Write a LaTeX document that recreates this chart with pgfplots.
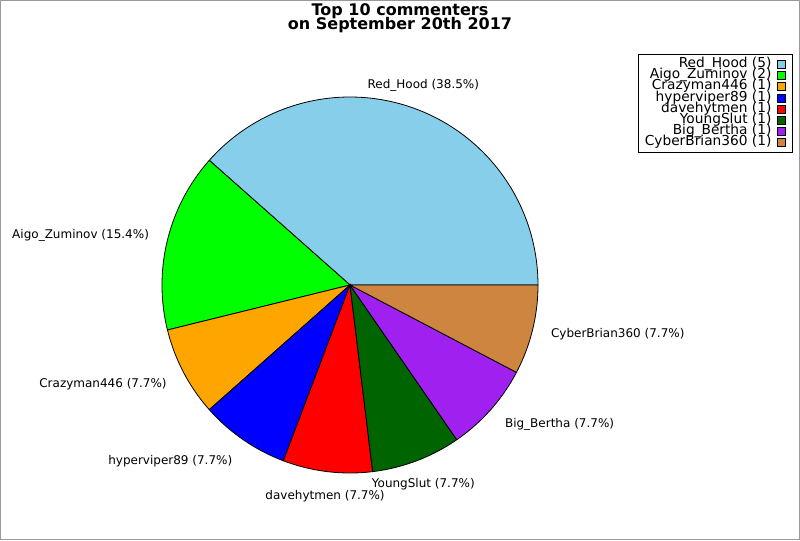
\documentclass[border=0pt]{standalone}
\usepackage{pgfplots}
\pgfplotsset{compat=1.18}
\usepackage{fontspec}
\setmainfont{DejaVu Sans}
\definecolor{cRed}{RGB}{135,206,235}
\definecolor{cAigo}{RGB}{0,255,0}
\definecolor{cCraz}{RGB}{255,165,0}
\definecolor{cHyp}{RGB}{0,0,255}
\definecolor{cDave}{RGB}{255,0,0}
\definecolor{cYoung}{RGB}{0,100,0}
\definecolor{cBig}{RGB}{160,32,240}
\definecolor{cCyber}{RGB}{205,133,63}
\newcommand\total{13}
\gdef\cum{0}
% #1 count, #2 colour, #3 name, #4 percentage text, #5 label anchor, #6 yshift
\newcommand\slice[6]{%
  \pgfmathsetmacro\sa{360*\cum/\total}%
  \pgfmathsetmacro\sb{360*(\cum+#1)/\total}%
  \pgfmathsetmacro\sm{(\sa+\sb)/2}%
  \pgfmathsetmacro\lx{350+206.8*cos(\sm)}%
  \pgfmathsetmacro\ly{255+206.8*sin(\sm)}%
  \pgfmathsetmacro\newcum{\cum+#1}\xdef\cum{\newcum}%
  \edef\doit{\noexpand\addplot[fill=#2, draw=black, line width=0.6pt, domain=\sa:\sb, samples=90, variable=\noexpand\t] ({350+188*cos(\noexpand\t)},{255+188*sin(\noexpand\t)}) -- (axis cs:350,255) -- cycle;}%
  \doit
  \addlegendentry{#3 (#1)}%
  \edef\dolabel{\noexpand\node[anchor=#5, yshift=#6, inner sep=0pt, font=\noexpand\fontsize{9}{10}\noexpand\selectfont] at (axis cs:\lx,\ly) {\unexpanded{#3} (#4\noexpand\%)};}%
  \dolabel
}
\begin{document}
\begin{tikzpicture}
\begin{axis}[
  hide axis, scale only axis,
  width=600pt, height=405pt,
  xmin=0, xmax=800, ymin=0, ymax=540,
  clip=false,
  legend plot pos=right,
  legend image code/.code={\draw[#1, draw=black, line width=0.6pt] (0pt,-3pt) rectangle (6pt,3pt);},
  legend cell align=right,
  legend style={
    at={(rel axis cs:0.9909,0.9)}, anchor=north east,
    draw=black, line width=0.75pt,
    inner xsep=4.5pt, inner ysep=3.5pt,
    column sep=4.5pt, row sep=0pt,
    font=\fontsize{10.3}{8}\selectfont,
    nodes={inner sep=0pt, text height=6.5pt, text depth=1.8pt},
  },
]
\slice{5}{cRed}{Red\_Hood}{38.5}{south}{0pt}
\slice{2}{cAigo}{Aigo\_Zuminov}{15.4}{east}{0pt}
\slice{1}{cCraz}{Crazyman446}{7.7}{east}{-2pt}
\slice{1}{cHyp}{hyperviper89}{7.7}{north east}{0pt}
\slice{1}{cDave}{davehytmen}{7.7}{north}{0pt}
\slice{1}{cYoung}{YoungSlut}{7.7}{north}{0pt}
\slice{1}{cBig}{Big\_Bertha}{7.7}{west}{-2pt}
\slice{1}{cCyber}{CyberBrian360}{7.7}{west}{0pt}
\node[anchor=base, inner sep=0pt, font=\fontsize{12}{14}\selectfont\bfseries] at (axis cs:400,524.5) {Top 10 commenters};
\node[anchor=base, inner sep=0pt, font=\fontsize{12}{14}\selectfont\bfseries] at (axis cs:400,510.5) {on September 20th 2017};
\draw[color={rgb,255:red,153;green,153;blue,153}, line width=0.75pt] (axis cs:0.5,0.5) rectangle (axis cs:799.5,539.5);
\end{axis}
\end{tikzpicture}
\end{document}
